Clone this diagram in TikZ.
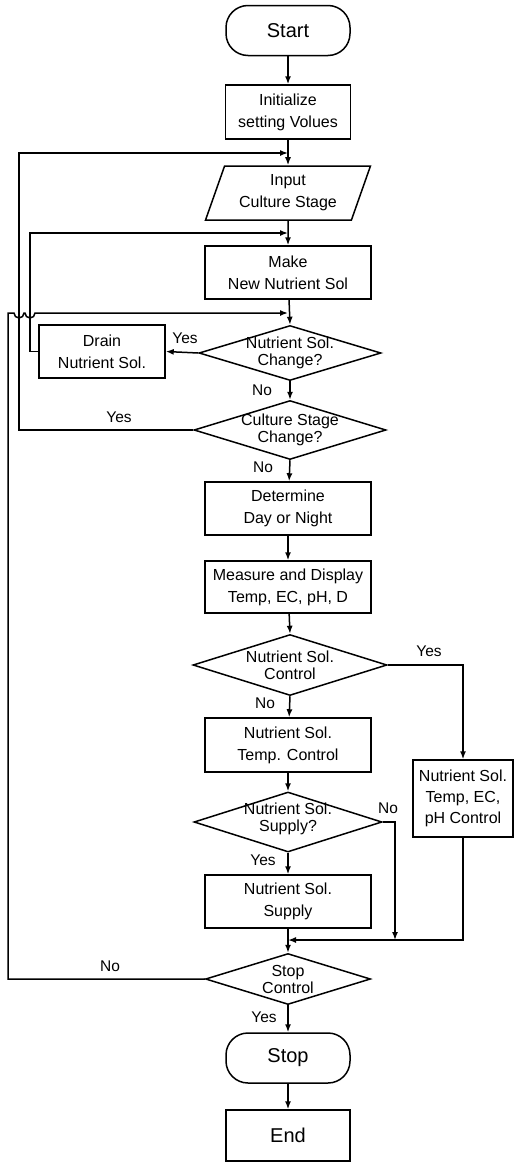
\documentclass[tikz,border=0pt]{standalone}
\usepackage{fontspec}
\setmainfont{Liberation Sans}
\usetikzlibrary{shapes.geometric,arrows.meta}
\begin{document}
\begin{tikzpicture}[x=1pt,y=-1pt,
  line width=1.5pt,
  base/.style={draw, inner sep=0pt, align=center, font=\fontsize{16}{22}\selectfont},
  proc/.style={base, rectangle, minimum width=166pt, minimum height=53pt},
  term/.style={base, rectangle, rounded corners=22pt, minimum width=124pt, minimum height=50pt, font=\fontsize{20}{24}\selectfont},
  io/.style={base, trapezium, trapezium stretches=true, trapezium left angle=68, trapezium right angle=112, minimum width=165pt, minimum height=54pt},
  dec/.style={draw, diamond, inner sep=0pt, minimum width=#1, minimum height=58pt},
  dtxt/.style={align=center, inner sep=0pt, font=\fontsize{16}{17}\selectfont},
  lbl/.style={inner sep=0pt, font=\fontsize{15.5}{18}\selectfont},
  flow/.style={-{Latex[length=8pt,width=6pt]}}]
\useasboundingbox (0,0) rectangle (515,1162);
% main column
\node[term] (start) at (288,30.5) {Start};
\node[proc, minimum width=125pt, minimum height=54pt] (init) at (288,112) {Initialize\\setting Volues};
\node[io] (input) at (288,193) {Input\\Culture Stage};
\node[proc] (make) at (288,272.5) {Make\\New Nutrient Sol};
\node[dec=182pt, minimum height=55pt] (nchg) at (290,353) {};
\node[dtxt] (nchgt) at (nchg) {Nutrient Sol.\\Change?};
\node[proc, minimum width=126pt] (drain) at (102,351.5) {Drain\\Nutrient Sol.};
\node[dec=192pt, minimum height=59pt] (cchg) at (290,430) {};
\node[dtxt] (cchgt) at (cchg) {Culture Stage\\Change?};
\node[proc] (det) at (288,508.5) {Determine\\Day or Night};
\node[proc, minimum height=52pt] (meas) at (288,587) {Measure and Display\\Temp, EC, pH, D};
\node[dec=194pt, minimum height=61pt] (nctl) at (290,665) {};
\node[dtxt] (nctlt) at (nctl) {Nutrient Sol.\\Control};
\node[proc, minimum height=54pt] (tctl) at (288,745) {Nutrient Sol.\\Temp. Control};
\node[dec=188pt, minimum height=60pt] (nsup) at (288,822) {};
\node[dtxt] (nsupt) at ([yshift=3pt]nsup) {Nutrient Sol.\\Supply?};
\node[proc] (sup) at (288,901.5) {Nutrient Sol.\\Supply};
\node[dec=165pt, minimum height=51pt] (stopc) at (288,979) {};
\node[dtxt] (stopct) at (stopc) {Stop\\Control};
\node[term] (stop) at (288,1058) {Stop};
\node[proc, minimum width=124pt, minimum height=51pt, font=\fontsize{20}{24}\selectfont] (endb) at (288,1135.5) {End};
% right branch
\node[proc, minimum width=100pt, minimum height=77pt, font=\fontsize{16}{21}\selectfont] (rbox) at (463,798.5) {Nutrient Sol.\\Temp, EC,\\pH Control};
% junctions on the main line
\coordinate (jA) at (288,153);
\coordinate (jB) at (288,233);
\coordinate (jC) at (288,313);
\coordinate (jD) at (288,940);
\coordinate (jN) at (395,940);
% loop columns
\coordinate (colA) at (19,0);
\coordinate (colB) at (30,0);
\coordinate (colC) at (8,0);
% main flow
\draw[flow] (start) -- (init);
\draw[flow] (init) -- (input);
\draw[flow] (input) -- (make);
\draw[flow] (make) -- (nchg.north);
\draw[flow] (nchg.west) -- (drain.east);
\draw[flow] (nchg.south) -- (cchg.north);
\draw[flow] (cchg.south) -- (det);
\draw[flow] (det) -- (meas);
\draw[flow] (meas) -- (nctl.north);
\draw[flow] (nctl.south) -- (tctl);
\draw[flow] (tctl) -- (nsup.north);
\draw[flow] (nsup.south) -- (sup);
\draw[flow] (sup) -- (stopc.north);
\draw[flow] (stopc.south) -- (stop);
\draw[flow] (stop) -- (endb);
\draw[flow] (nctl.east) -| (rbox.north);
\draw[flow] (nsup.east) -| (jN);
\draw[flow] (rbox.south) |- (jD);
% loops back
\draw[flow] (cchg.west) -- (cchg.west -| colA) -- (colA |- jA) -- (jA);
\draw[flow] (drain.west) -- (drain.west -| colB) -- (colB |- jB) -- (jB);
\draw[flow] (stopc.west) -- (stopc.west -| colC) -- (colC |- jC) -- (14,313)
  arc[start angle=180, end angle=0, radius=5] -- (25,313)
  arc[start angle=180, end angle=0, radius=5] -- (jC);
% labels
\node[lbl] (y1) at (185,338) {Yes};
\node[lbl] (n1) at (262,390) {No};
\node[lbl] (y2) at (119,417) {Yes};
\node[lbl] (n2) at (263,467) {No};
\node[lbl] (y3) at (429,651) {Yes};
\node[lbl] (n3) at (265,703) {No};
\node[lbl] (n4) at (388,808) {No};
\node[lbl] (y4) at (263,860) {Yes};
\node[lbl] (n5) at (110,966) {No};
\node[lbl] (y5) at (264,1017) {Yes};
\end{tikzpicture}
\end{document}
